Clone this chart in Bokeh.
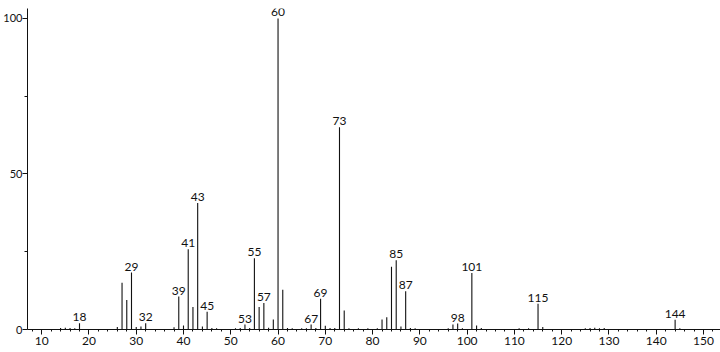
from bokeh.plotting import figure
from bokeh.models import ColumnDataSource, FixedTicker, Range1d
from bokeh.core.properties import value
from bokeh.embed import file_html
from bokeh.resources import INLINE

# m/z values and relative intensities (%)
mz = [14, 15, 16, 17, 18, 26, 27, 28, 29, 30, 31, 32, 38, 39, 40, 41, 42, 43,
      44, 45, 46, 47, 51, 52, 53, 54, 55, 56, 57, 58, 59, 60, 61, 62, 63, 65,
      66, 67, 68, 69, 70, 71, 72, 73, 74, 75, 77, 79, 81, 82, 83, 84, 85, 86,
      87, 88, 89, 96, 97, 98, 99, 101, 102, 103, 111, 113, 115, 116, 125, 126,
      127, 128, 129, 144, 145]
intensity = [0.5, 0.6, 0.5, 0.4, 2.0, 0.8, 15.0, 9.5, 18.3, 0.8, 1.0, 2.0, 0.7,
             10.6, 1.3, 25.8, 7.2, 40.7, 1.0, 5.7, 0.5, 0.4, 0.4, 0.5, 1.6, 0.5,
             22.9, 7.2, 8.5, 0.6, 3.2, 100.0, 12.8, 0.5, 0.4, 0.4, 0.4, 1.6, 0.5,
             9.9, 1.2, 0.5, 0.5, 65.0, 6.1, 0.4, 0.4, 0.4, 0.4, 3.2, 3.9, 20.2,
             22.3, 1.0, 12.3, 0.5, 0.4, 0.4, 1.6, 1.9, 0.4, 18.2, 1.3, 0.5, 0.4,
             0.4, 8.3, 0.8, 0.4, 0.5, 0.6, 0.4, 0.5, 3.1, 0.4]

label_mz = [18, 29, 32, 39, 41, 43, 45, 53, 55, 57, 60, 67, 69, 73, 85, 87, 98,
            101, 115, 144]
label_int = [2.0, 18.3, 2.0, 10.6, 25.8, 40.7, 5.7, 1.6, 22.9, 8.5, 100.0, 1.6,
             9.9, 65.0, 22.3, 12.3, 1.9, 18.2, 8.3, 3.1]
label_text = [str(v) for v in label_mz]

x_ticks = list(range(10, 151, 10))
x_minor = list(range(8, 154, 2))
y_ticks = [0, 50, 100]
y_minor = [25, 75]

font = value("Lato")

p = figure(width=720, height=352, output_backend="svg", toolbar_location=None,
           x_range=Range1d(7.0, 153.6), y_range=Range1d(0, 103.2),
           min_border_left=0, min_border_right=0, min_border_top=8,
           min_border_bottom=23)
p.outline_line_color = None
p.xgrid.visible = False
p.ygrid.visible = False
p.background_fill_color = "white"
p.border_fill_color = "white"

src = ColumnDataSource(dict(x=mz, y=intensity, y0=[0] * len(mz)))
p.segment(x0="x", y0="y0", x1="x", y1="y", source=src, line_color="#111111",
          line_width=1.1)

lsrc = ColumnDataSource(dict(x=label_mz, y=label_int, t=label_text))
p.text(x="x", y="y", text="t", source=lsrc, text_align="center",
       text_baseline="bottom", y_offset=-2, text_font=font,
       text_font_size="12px", text_color="#111111")

xa = p.xaxis[0]
xa.ticker = FixedTicker(ticks=x_ticks, minor_ticks=x_minor)
xa.major_tick_out = 5
xa.major_tick_in = 0
xa.minor_tick_out = 2
xa.minor_tick_in = 0
xa.major_label_standoff = 2
xa.major_label_text_font = "Lato"
xa.major_label_text_font_size = "12px"
xa.major_label_text_color = "#111111"
xa.axis_line_color = "#111111"
xa.major_tick_line_color = "#111111"
xa.minor_tick_line_color = "#111111"

ya = p.yaxis[0]
ya.ticker = FixedTicker(ticks=y_ticks, minor_ticks=y_minor)
ya.major_tick_out = 5
ya.major_tick_in = 0
ya.minor_tick_out = 3
ya.minor_tick_in = 0
ya.major_label_standoff = 0
ya.major_label_text_font = "Lato"
ya.major_label_text_font_size = "11px"
ya.major_label_text_color = "#111111"
ya.axis_line_color = "#111111"
ya.major_tick_line_color = "#111111"
ya.minor_tick_line_color = "#111111"

open("out.html", "w").write(file_html(p, INLINE))
